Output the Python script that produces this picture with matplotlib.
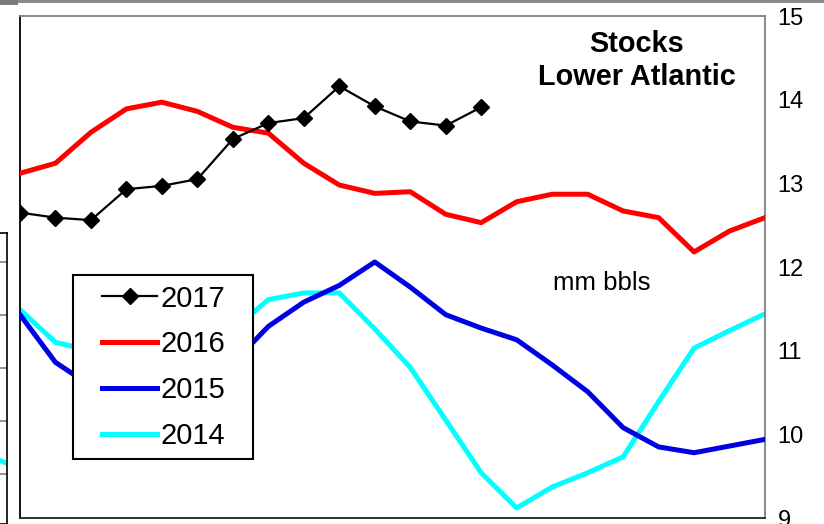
import matplotlib.pyplot as plt
from matplotlib.patches import Rectangle

plt.rcParams['font.family'] = ['Liberation Sans', 'DejaVu Sans']

# weekly points, 22 per year
weeks = list(range(22))

stocks_2017 = [12.65, 12.59, 12.56, 12.93, 12.97, 13.05, 13.53, 13.72, 13.78, 14.16,
               13.92, 13.74, 13.69, 13.91]
stocks_2016 = [13.12, 13.24, 13.61, 13.89, 13.97, 13.86, 13.67, 13.60, 13.24, 12.98,
               12.88, 12.90, 12.63, 12.53, 12.78, 12.87, 12.87, 12.67, 12.59, 12.18,
               12.43, 12.59]
stocks_2015 = [11.43, 10.86, 10.58, 10.47, 10.51, 10.65, 10.85, 11.29, 11.58, 11.78,
               12.06, 11.76, 11.43, 11.27, 11.13, 10.83, 10.51, 10.08, 9.85, 9.78,
               9.86, 9.94]
stocks_2014 = [11.49, 11.10, 11.00, 10.89, 10.86, 11.00, 11.25, 11.61, 11.69, 11.69,
               11.26, 10.80, 10.17, 9.54, 9.12, 9.37, 9.54, 9.73, 10.39, 11.03,
               11.24, 11.44]

y_ticks = [9, 10, 11, 12, 13, 14, 15]

# cropped neighbour chart at the left edge
nb_grid = [1, 2, 3, 4, 5]
nb_cyan_x = [0.3, 1]
nb_cyan_y = [1.33, 1.20]

fig = plt.figure(figsize=(8.24, 5.24), dpi=100)

# frame strips at the top
fig.add_artist(Rectangle((18 / 824, 1 - 3 / 524), 1, 3 / 524, transform=fig.transFigure,
                         color='#8c8c8c', lw=0))
fig.add_artist(Rectangle((0, 1 - 5 / 524), 18 / 824, 5 / 524, transform=fig.transFigure,
                         color='#7a7a7a', lw=0))

# neighbour sliver
nb = fig.add_axes([-0.02, 0, 0.0285, (524 - 233) / 524])
nb.set_xlim(0, 1)
nb.set_ylim(0.057, 5.547)
nb.set_yticks(nb_grid)
nb.grid(axis='y', color='#808080', lw=1.2)
nb.plot(nb_cyan_x, nb_cyan_y, color='#00FFFF', lw=3.5)
nb.tick_params(left=False, bottom=False, labelleft=False, labelbottom=False)
for s in nb.spines.values():
    s.set_color('black')
    s.set_linewidth(1.2)

ax = fig.add_axes([20 / 824, 6 / 524, 745 / 824, 502 / 524])
ax.plot(weeks, stocks_2014, color='#00FFFF', lw=3.6, label='2014', zorder=2)
ax.plot(weeks, stocks_2015, color='#0000E6', lw=3.6, label='2015', zorder=3)
ax.plot(weeks, stocks_2016, color='#FF0000', lw=3.6, label='2016', zorder=4)
ax.plot(weeks[:len(stocks_2017)], stocks_2017, color='black', lw=1.6, marker='D',
        ms=8.5, label='2017', zorder=5)

ax.set_xlim(0, 21)
ax.set_ylim(9, 15)
ax.set_yticks(y_ticks)
ax.set_xticks([])
ax.yaxis.tick_right()
ax.tick_params(axis='y', length=0, pad=9, labelsize=17)

ax.spines['top'].set_color('#808080')
ax.spines['right'].set_color('#808080')
ax.spines['left'].set_color('black')
ax.spines['bottom'].set_color('#222222')
for s in ax.spines.values():
    s.set_linewidth(1.3)

ax.text(0.828, 0.911, 'Stocks\nLower Atlantic', transform=ax.transAxes, ha='center',
        va='center', fontsize=20.8, fontweight='bold', linespacing=1.2)
ax.text(0.781, 0.468, 'mm bbls', transform=ax.transAxes, ha='center', va='center',
        fontsize=18.5)

# legend box drawn separately so its padding matches the original
ax.add_patch(Rectangle((0.0711, 0.1175), 0.2416, 0.3665, transform=ax.transAxes,
                       facecolor='white', edgecolor='black', lw=1.5, zorder=9))
h, l = ax.get_legend_handles_labels()
leg = ax.legend(h[::-1], l[::-1], loc='upper left', bbox_to_anchor=(0.110, 0.465),
                borderaxespad=0, borderpad=0, fontsize=21, frameon=False,
                handlelength=1.9, handletextpad=0.1, labelspacing=0.61)
leg.set_zorder(10)

fig.savefig('out.png', dpi=100)
